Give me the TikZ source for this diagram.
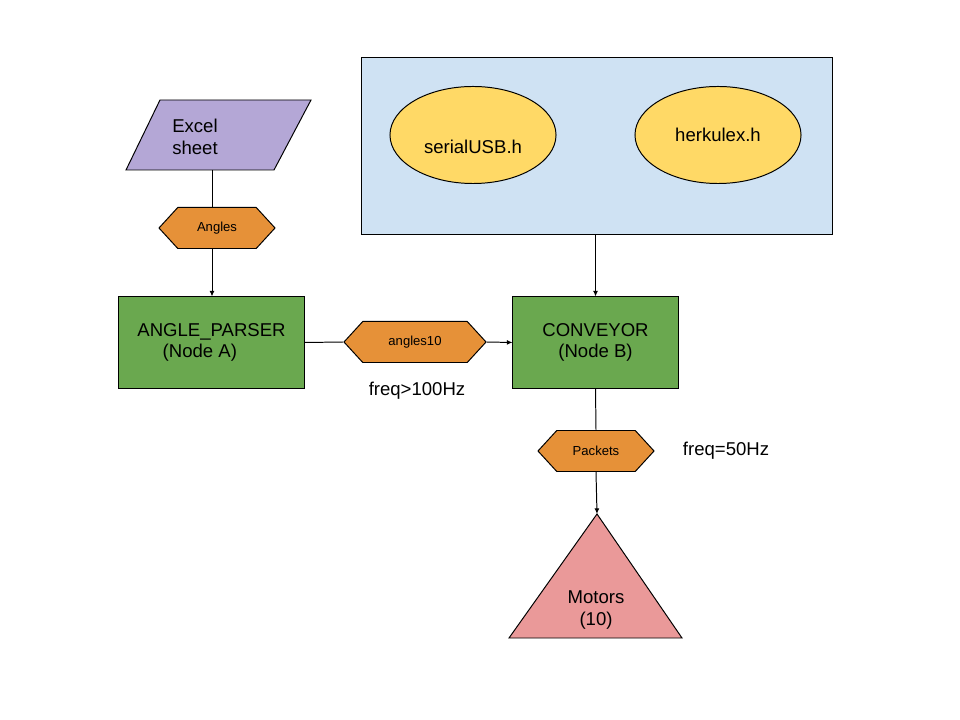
\documentclass[tikz,border=0pt]{standalone}
\usepackage{fontspec}
\setmainfont{Liberation Sans}
\usetikzlibrary{shapes.geometric, shapes.symbols, arrows.meta}

\definecolor{procgreen}{HTML}{6AA84F}
\definecolor{tagorange}{HTML}{E69138}
\definecolor{sheetpurple}{HTML}{B4A7D6}
\definecolor{libyellow}{HTML}{FFD966}
\definecolor{libblue}{HTML}{CFE2F3}
\definecolor{motorred}{HTML}{EA9999}

\begin{document}
\begin{tikzpicture}[
		x=0.025cm, y=-0.025cm,
		every node/.style={font=\fontsize{13.2}{15.5}\selectfont, inner sep=0pt},
		proc/.style={rectangle, draw, fill=procgreen, minimum height=2.275cm},
		tag/.style={signal, signal to=east and west, signal pointer angle=95, draw, fill=tagorange,
			minimum height=1.025cm, font=\fontsize{9.3}{11}\selectfont},
		lib/.style={ellipse, draw, fill=libyellow, minimum width=4.15cm, minimum height=2.425cm},
		>={Latex[length=4pt,width=3.5pt]}, line width=0.7pt
	]
		\useasboundingbox (0,0) rectangle (960,720);
		
		% Libraries box
		\node[rectangle, draw, fill=libblue, minimum width=11.75cm, minimum height=4.4cm] (libs) at (597,146) {};
		\node[lib] (serial) at (473,135) {};
		\node (serialtxt) at (473,147) {serialUSB.h};
		\node[lib] (herk) at (718,135) {herkulex.h};
		
		% Excel sheet input
		\draw[fill=sheetpurple] (160,100) -- (311,100) -- (274,170) -- (126,170) -- cycle;
		\node[align=left] (excel) at (195,137) {Excel\\sheet};
		\coordinate (excelbot) at (212,170);
		
		\node[tag, minimum width=2.9cm] (angles) at (217,228) {Angles};
		\node[proc, minimum width=4.625cm, align=left] (parser) at (211.5,342.5) {ANGLE\_PARSER\\\hspace*{18pt}(Node A)};
		\node[tag, minimum width=3.55cm] (angles10) at (415,342) {angles10};
		\node[proc, minimum width=4.125cm, align=center] (conv) at (595.5,342.5) {CONVEYOR\\(Node B)};
		\node[tag, minimum width=2.9cm] (packets) at (596,451) {Packets};
		
		% Motors
		\draw[fill=motorred] (597,514) -- (682,638) -- (509,638) -- cycle;
		\coordinate (motortop) at (597,514);
		\node[align=center] (motors) at (596,610) {Motors\\(10)};
		
		\node (freqA) at (417,391) {freq>100Hz};
		\node (freqB) at (726,451) {freq=50Hz};
		
		\draw (excelbot) -- (angles.north -| excelbot);
		\draw[->] (angles.south -| excelbot) -- (parser.north -| excelbot);
		\draw (parser.east) -- (angles10.west);
		\draw[->] (angles10.east) -- (conv.west);
		\draw[->] (libs.south -| conv.north) -- (conv.north);
		\draw (conv.south) -- (packets.north);
		\draw[->] (packets.south) -- (motortop);
	\end{tikzpicture}
\end{document}
